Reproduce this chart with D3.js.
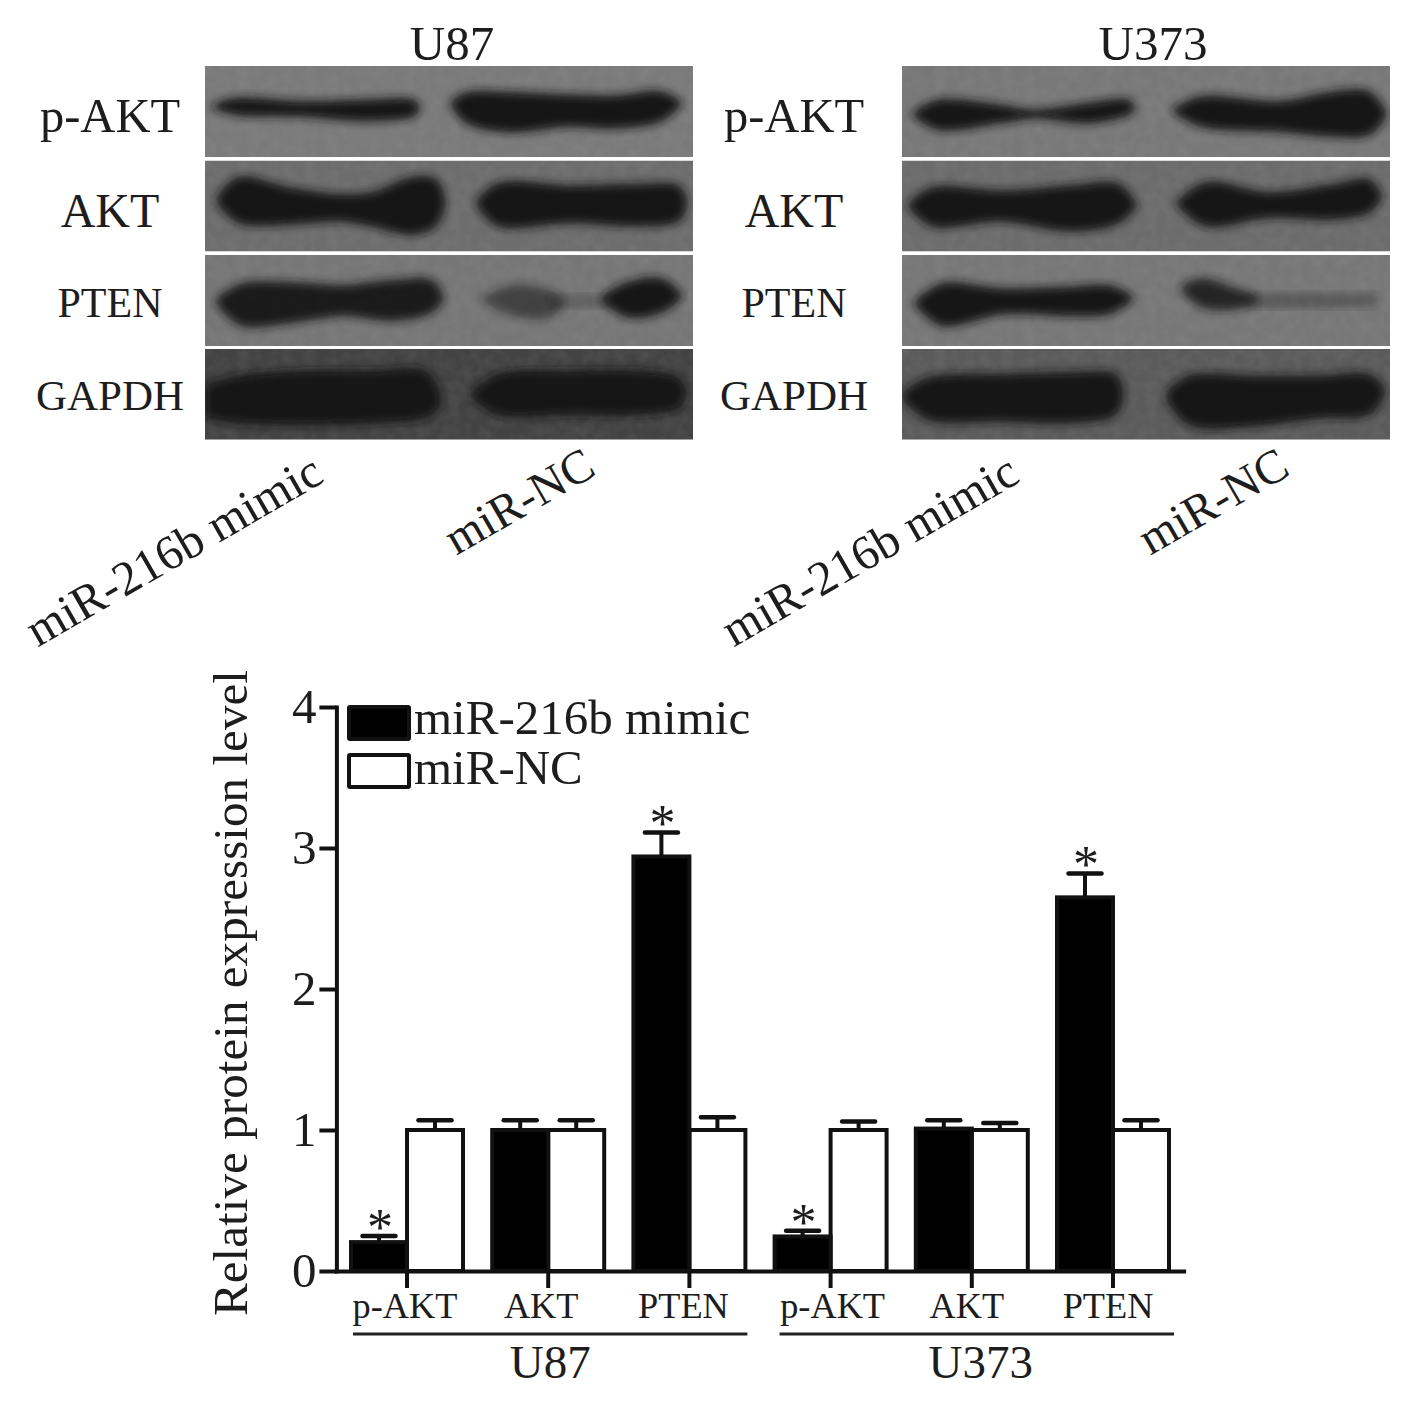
<!DOCTYPE html>
<html><head><meta charset="utf-8">
<script src="https://d3js.org/d3.v7.min.js"></script>
<style>
html,body{margin:0;padding:0;background:#fff}
svg{display:block}
text{font-family:"Liberation Serif",serif;fill:#1d1d1d}
</style></head><body>
<svg id="c" width="1417" height="1407"></svg>
<script>
// Bar chart values
const groups = ["U87","U87","U87","U373","U373","U373"];
const categories = ["p-AKT","AKT","PTEN","p-AKT","AKT","PTEN"];
const seriesNames = ["miR-216b mimic","miR-NC"];
const mimicValues = [0.205,1.0,2.94,0.245,1.01,2.65];
const mimicErrors = [0.248,1.07,3.11,0.285,1.07,2.82];
const ncValues = [1,1,1,1,1,1];
const ncErrors = [1.07,1.07,1.09,1.06,1.05,1.07];
const significant = [true,false,true,true,false,true];
const yTicks = [0,1,2,3,4];

// Blot lanes: [position along the strip, upper edge, lower edge], plus darkness
const rowNames = ["p-AKT","AKT","PTEN","GAPDH"];
const u87Tones = ["#7a7a7a","#6d6d6d","#767676","#434343"];
const u373Tones = ["#787878","#6c6c6c","#777777","#5b5b5b"];
const u87Pakt = [
 {d:1,p:[[25,120,120],[90,100,140],[285,110,145],[485,105,158],[625,105,145],[640,120,125]]},
 {d:1,p:[[740,110,112],[785,83,165],[915,83,192],[1085,90,175],[1235,93,180],[1365,80,160],[1425,110,112]]}];
const u87Akt = [
 {d:1,p:[[40,110,125],[100,55,180],[250,85,185],[400,105,175],[500,100,190],[620,55,215],[690,60,190],[715,120,130]]},
 {d:1,p:[[820,120,135],[880,72,190],[1100,80,180],[1300,75,190],[1420,80,175],[1440,125,130]]}];
const u87Pten = [
 {d:.95,p:[[40,130,145],[110,90,205],[230,85,200],[420,95,175],[560,80,190],[680,80,165],[710,125,130]]},
 {d:.55,p:[[835,130,135],[930,95,175],[1030,110,180],[1070,130,150]]},
 {d:.25,p:[[1040,125,150],[1130,125,150],[1220,125,150]]},
 {d:1,p:[[1195,125,135],[1270,85,180],[1370,75,165],[1425,120,125]]}];
const u87Gapdh = [
 {d:1,p:[[5,110,200],[100,85,215],[300,70,220],[500,70,215],[660,70,200],[700,130,170]]},
 {d:1,p:[[805,130,145],[880,80,190],[1100,70,190],[1300,70,190],[1420,90,170],[1438,130,135]]}];
const u373Pakt = [
 {d:1,p:[[38,140,145],[110,105,185],[290,120,165],[400,135,150],[560,115,165],[680,105,140],[693,125,130]]},
 {d:1,p:[[818,130,135],[900,95,175],[1130,110,190],[1300,80,205],[1400,80,200],[1448,140,145]]}];
const u373Akt = [
 {d:1,p:[[23,130,135],[90,85,190],[300,95,175],[500,80,205],[650,75,180],[698,130,135]]},
 {d:1,p:[[828,125,130],[910,70,190],[1100,100,165],[1300,75,170],[1400,60,150],[1433,105,110]]}];
const u373Pten = [
 {d:1,p:[[43,140,145],[120,90,205],[300,105,170],[500,100,175],[620,95,170],[688,125,130]]},
 {d:.85,p:[[843,95,105],[900,75,150],[1000,105,155],[1060,125,140]]},
 {d:.35,p:[[1040,125,145],[1200,120,150],[1420,122,145]]}];
const u373Gapdh = [
 {d:1,p:[[8,130,150],[80,90,205],[300,80,210],[500,75,215],[640,80,190],[658,130,140]]},
 {d:1,p:[[798,130,150],[860,85,220],[1050,85,225],[1250,85,200],[1400,80,190],[1443,120,135]]}];

const blots = [
 {title:"U87",left:205,tones:u87Tones,rows:[u87Pakt,u87Akt,u87Pten,u87Gapdh],
  labelX:110,titleX:452,laneX:[326,598]},
 {title:"U373",left:902,tones:u373Tones,rows:[u373Pakt,u373Akt,u373Pten,u373Gapdh],
  labelX:794,titleX:1153,laneX:[1022,1292]}
];

const svg = d3.select("#c");
const defs = svg.append("defs");
defs.append("filter").attr("id","blur").attr("x","-10%").attr("y","-50%").attr("width","120%").attr("height","200%")
  .append("feGaussianBlur").attr("stdDeviation",5);
const grain = defs.append("filter").attr("id","grain").attr("x",0).attr("y",0).attr("width","100%").attr("height","100%");
grain.append("feTurbulence").attr("type","fractalNoise").attr("baseFrequency",0.09).attr("numOctaves",2).attr("seed",4);
grain.append("feColorMatrix").attr("values","0 0 0 0 0.5  0 0 0 0 0.5  0 0 0 0 0.5  1.1 0 0 0 -0.35");

// ---------- western blots ----------
const rowTops = [66,160.5,255,349];
const rowH = 91, panelW = 488;
const bx = d3.scaleLinear().domain([0,1463]).range([0,panelW]);
const by = d3.scaleLinear().domain([0,270]).range([0,rowH]);
const bandArea = d3.area().x(d=>bx(d[0])).y0(d=>by(d[1])).y1(d=>by(d[2])).curve(d3.curveCatmullRom.alpha(0.5));
const rowLabelSize = [48.5,48,42,43];
const rowLabelY = [132,227,317,410];

blots.forEach((b,bi)=>{
  svg.append("text").attr("x",b.titleX).attr("y",60).attr("text-anchor","middle")
     .attr("font-size",49).text(b.title);
  b.rows.forEach((lanes,ri)=>{
    const id = `clip${bi}${ri}`;
    defs.append("clipPath").attr("id",id).append("rect").attr("width",panelW).attr("height",Math.min(rowH,439.5-rowTops[ri]));
    const g = svg.append("g").attr("transform",`translate(${b.left},${rowTops[ri]})`);
    const inner = g.append("g").attr("clip-path",`url(#${id})`);
    inner.append("rect").attr("width",panelW).attr("height",rowH).attr("fill",b.tones[ri]);
    inner.append("rect").attr("width",panelW).attr("height",rowH).attr("fill","#000")
      .attr("filter","url(#grain)").attr("opacity",0.16);
    inner.selectAll("path.band").data(lanes).join("path").attr("class","band")
      .attr("d",l=>bandArea(l.p)).attr("fill","#141414").attr("stroke","#141414").attr("stroke-width",4)
      .attr("stroke-linejoin","round").attr("opacity",l=>l.d)
      .attr("filter","url(#blur)");
    svg.append("text").attr("x",b.labelX).attr("y",rowLabelY[ri]).attr("text-anchor","middle")
       .attr("font-size",rowLabelSize[ri]).text(rowNames[ri]);
  });
  seriesNames.forEach((n,i)=>{
    svg.append("text").attr("text-anchor","end").attr("font-size",i?47.5:48.5)
       .attr("transform",`translate(${b.laneX[i]},${i?474:481}) rotate(-30)`).text(n);
  });
});

// ---------- bar chart ----------
const keys = categories.map((c,i)=>i);
const x = d3.scaleBand().domain(keys).range([336.4,1183.6]);
const barOffset = d3.scaleBand().domain(seriesNames).range([-56,56]);
const y = d3.scaleLinear().domain([0,4]).range([1271,707]);
const fills = ["#000","#fff"];
const barW = barOffset.bandwidth();
const centre = i => x(i)+x.bandwidth()/2;
const capW = 33;

const series = [
 {name:seriesNames[0],values:mimicValues,errors:mimicErrors,fill:fills[0]},
 {name:seriesNames[1],values:ncValues,errors:ncErrors,fill:fills[1]}
];
// white bars first, so that black bars sit on shared edges
[series[1],series[0]].forEach(s=>{
  const g = svg.append("g");
  keys.forEach(i=>{
    const cx = centre(i)+barOffset(s.name)+barW/2;
    g.append("line").attr("x1",cx).attr("x2",cx).attr("y1",y(s.values[i])).attr("y2",y(s.errors[i]))
      .attr("stroke","#111").attr("stroke-width",4);
    g.append("line").attr("x1",cx-capW/2).attr("x2",cx+capW/2).attr("y1",y(s.errors[i])).attr("y2",y(s.errors[i]))
      .attr("stroke","#111").attr("stroke-width",4.5).attr("stroke-linecap","round");
    g.append("rect").attr("x",cx-barW/2).attr("y",y(s.values[i])).attr("width",barW)
      .attr("height",y(0)-y(s.values[i])).attr("fill",s.fill).attr("stroke","#111").attr("stroke-width",4);
    if(s.fill==="#000" && significant[i]){
      g.append("text").attr("x",cx+1).attr("y",y(s.errors[i])+9).attr("text-anchor","middle")
        .attr("font-size",52).text("*");
    }
  });
});

const labelNudge = [-2,-7,-6,2,-5,-5];
const yAxis = d3.axisLeft(y).tickValues(yTicks).tickFormat(d3.format("d")).tickSize(17).tickSizeOuter(0).tickPadding(3);
const xAxis = d3.axisBottom(x).tickFormat(i=>categories[i]).tickSize(17).tickSizeOuter(0).tickPadding(4.5);
const ax = svg.append("g").attr("transform",`translate(${x.range()[0]},0)`).call(yAxis);
ax.selectAll("text").attr("font-size",49).style("font-family",'"Liberation Serif",serif').attr("fill","#1d1d1d");
const bx2 = svg.append("g").attr("transform",`translate(0,${y(0)})`).call(xAxis);
bx2.selectAll("text").attr("font-size",36.3).style("font-family",'"Liberation Serif",serif').attr("fill","#1d1d1d")
   .attr("dx",(d,i)=>labelNudge[i]);
[ax,bx2].forEach(a=>{
  a.selectAll("path,line").attr("stroke","#111").attr("stroke-width",4);
  a.select(".domain").attr("stroke-linecap","square");
});

svg.append("text").attr("transform","translate(247,993) rotate(-90)").attr("text-anchor","middle")
   .attr("font-size",49.2).text("Relative protein expression level");

// group rules and names
const groupNames = Array.from(new Set(groups));
const ruleNudge = [0,3], nameNudge = [0,4];
groupNames.forEach((name,k)=>{
  const idx = keys.filter(i=>groups[i]===name);
  const x0 = centre(idx[0])-54+ruleNudge[k], x1 = centre(idx[idx.length-1])+58+ruleNudge[k];
  svg.append("line").attr("x1",x0).attr("x2",x1).attr("y1",1334).attr("y2",1334)
     .attr("stroke","#222").attr("stroke-width",3.2);
  svg.append("text").attr("x",(x0+x1)/2+nameNudge[k]).attr("y",1378).attr("text-anchor","middle")
     .attr("font-size",47).text(name);
});

// legend
const legend = svg.append("g");
series.forEach((s,i)=>{
  const top = 707+i*48;
  legend.append("rect").attr("x",349).attr("y",top).attr("width",60).attr("height",32)
    .attr("fill",s.fill).attr("stroke","#111").attr("stroke-width",4).attr("rx",1);
  legend.append("text").attr("x",414).attr("y",top+(i?77-48:27)).attr("font-size",49).text(s.name);
});
</script>
</body></html>
